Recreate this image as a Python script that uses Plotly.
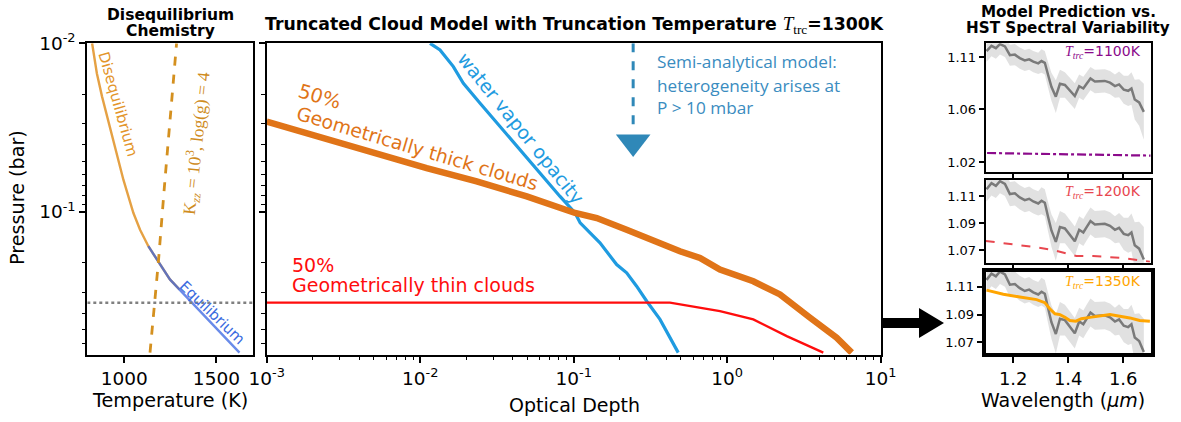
import plotly.graph_objects as go

W, H = 1181, 422
def fx(x): return x / W
def fy(y): return 1 - y / H

# ---------------- Left panel: disequilibrium chemistry ----------------
diseq_T = [826, 852, 880, 916, 951, 996, 1050, 1086, 1131, 1176, 1248, 1300]
diseq_P = [0.0100, 0.0151, 0.0207, 0.0297, 0.0408, 0.0646, 0.1014, 0.1274, 0.1596, 0.1914, 0.2512, 0.2880]
equil_T = [1131, 1176, 1248, 1340, 1436, 1530, 1625]
equil_P = [0.1596, 0.1914, 0.2512, 0.3206, 0.4140, 0.5320, 0.6820]
kzz_T = [1140, 1185, 1221, 1284]
kzz_P = [0.682, 0.200, 0.0646, 0.0100]
trunc_P = 0.345
temp_range = [800, 1700]

# ---------------- Middle panel: truncated cloud model ----------------
thick_tau = [0.001, 0.001648, 0.004055, 0.01102, 0.02333, 0.04943, 0.1021, 0.1413, 0.2213,
             0.314, 0.363, 0.492, 0.665, 0.897, 1.479, 2.208, 3.467, 5.164, 6.471]
thick_P = [0.0291, 0.03334, 0.04276, 0.05495, 0.06592, 0.08091, 0.1014, 0.1086, 0.1274,
           0.1459, 0.1524, 0.1710, 0.1871, 0.2193, 0.2576, 0.3083, 0.4236, 0.5559, 0.6823]
thin_tau = [0.001, 0.4236, 0.897, 1.479, 2.443, 4.227]
thin_P = [0.345, 0.345, 0.3873, 0.4335, 0.5445, 0.6823]
water_tau = [0.01159, 0.01346, 0.01644, 0.0191, 0.02455, 0.03311, 0.04467, 0.06026, 0.08147,
             0.1021, 0.1102, 0.1483, 0.1905, 0.2213, 0.2570, 0.2992, 0.3648, 0.4797]
water_P = [0.0100, 0.01094, 0.01374, 0.01726, 0.02265, 0.03119, 0.04276, 0.05875, 0.08091,
           0.1014, 0.1161, 0.1524, 0.2051, 0.2296, 0.2754, 0.3381, 0.4335, 0.6823]
arrow_tau = [0.244, 0.244]
arrow_P = [0.0100, 0.0317]
arrow_head_P = [0.0385]
P_range = [0.70, 0.01]
tau_range = [0.001, 10]

# ---------------- Right panels: HST spectral variability ----------------
wl = [1.103, 1.121, 1.137, 1.152, 1.170, 1.188, 1.206, 1.224, 1.242, 1.258, 1.273, 1.291, 1.303,
      1.315, 1.327, 1.339, 1.355, 1.370, 1.388, 1.406, 1.424, 1.440, 1.455, 1.467, 1.481, 1.497,
      1.515, 1.533, 1.552, 1.570, 1.585, 1.602, 1.618, 1.630, 1.642, 1.658, 1.675]
ratio = [1.115, 1.1195, 1.1175, 1.121, 1.119, 1.1115, 1.112, 1.109, 1.107, 1.108, 1.106, 1.1045,
         1.1065, 1.105, 1.0945, 1.0845, 1.076, 1.087, 1.086, 1.081, 1.0765, 1.085, 1.083, 1.087,
         1.0915, 1.089, 1.0895, 1.0895, 1.088, 1.085, 1.0865, 1.082, 1.081, 1.083, 1.0735, 1.071, 1.063]
ratio_err = [0.009, 0.009, 0.009, 0.009, 0.009, 0.009, 0.009, 0.009, 0.009, 0.009, 0.009, 0.009,
             0.010, 0.010, 0.011, 0.012, 0.014, 0.012, 0.011, 0.011, 0.011, 0.010, 0.010, 0.010,
             0.010, 0.010, 0.010, 0.010, 0.010, 0.010, 0.011, 0.012, 0.013, 0.014, 0.017, 0.020, 0.024]
m1100_wl = [1.105, 1.40, 1.70]
m1100 = [1.0277, 1.0266, 1.0255]
m1200_wl = [1.10, 1.20, 1.285, 1.345, 1.43, 1.49, 1.588, 1.697]
m1200 = [1.0767, 1.0744, 1.072, 1.070, 1.0655, 1.0655, 1.0643, 1.0614]
m1350_wl = [1.103, 1.164, 1.224, 1.285, 1.315, 1.333, 1.352, 1.370, 1.388, 1.406, 1.428, 1.448,
            1.479, 1.515, 1.552, 1.588, 1.624, 1.660, 1.697]
m1350 = [1.1076, 1.1047, 1.1027, 1.1008, 1.0986, 1.0942, 1.0906, 1.090, 1.0881, 1.0857, 1.0852,
         1.087, 1.088, 1.0888, 1.090, 1.0888, 1.0876, 1.0857, 1.0852]
wl_range = [1.10, 1.70]
y1_range = [1.0117, 1.1217]
y2_range = [1.0606, 1.1219]
y3_range = [1.0621, 1.1209]
y1_ticks = [1.02, 1.065, 1.11]
y1_text = ["1.02", "1.06", "1.11"]
y23_ticks = [1.07, 1.09, 1.11]
y23_text = ["1.07", "1.09", "1.11"]

FONT = "DejaVu Sans"
SERIF = "Liberation Serif"

fig = go.Figure()

# left
fig.add_trace(go.Scatter(x=diseq_T, y=diseq_P, mode="lines", xaxis="x", yaxis="y",
                         line=dict(color="rgba(225,145,35,0.85)", width=2.4)))
fig.add_trace(go.Scatter(x=equil_T, y=equil_P, mode="lines", xaxis="x", yaxis="y",
                         line=dict(color="rgba(55,100,225,0.75)", width=2.4)))
fig.add_trace(go.Scatter(x=kzz_T, y=kzz_P, mode="lines", xaxis="x", yaxis="y",
                         line=dict(color="#d4901f", width=2.8, dash="dash")))
fig.add_trace(go.Scatter(x=temp_range, y=[trunc_P, trunc_P], mode="lines", xaxis="x", yaxis="y",
                         line=dict(color="#808080", width=2.5, dash="dot")))

# middle
fig.add_trace(go.Scatter(x=water_tau, y=water_P, mode="lines", xaxis="x2", yaxis="y2",
                         line=dict(color="#1f9be0", width=3.2)))
fig.add_trace(go.Scatter(x=thick_tau, y=thick_P, mode="lines", xaxis="x2", yaxis="y2",
                         line=dict(color="#e07418", width=6.5)))
fig.add_trace(go.Scatter(x=thin_tau, y=thin_P, mode="lines", xaxis="x2", yaxis="y2",
                         line=dict(color="#ff0d0d", width=2.3)))
fig.add_trace(go.Scatter(x=arrow_tau, y=arrow_P, mode="lines", xaxis="x2", yaxis="y2",
                         line=dict(color="#2f88b8", width=3, dash="dash")))
fig.add_trace(go.Scatter(x=arrow_tau[:1], y=arrow_head_P, mode="markers", xaxis="x2", yaxis="y2",
                         marker=dict(symbol="triangle-down", size=30, color="#2f88b8")))

# right panels
for xa, ya in [("x3", "y3"), ("x4", "y4"), ("x5", "y5")]:
    up = [r + e for r, e in zip(ratio, ratio_err)]
    lo = [r - e for r, e in zip(ratio, ratio_err)]
    fig.add_trace(go.Scatter(x=wl, y=up, mode="lines", xaxis=xa, yaxis=ya,
                             line=dict(width=0, color="rgba(0,0,0,0)")))
    fig.add_trace(go.Scatter(x=wl, y=lo, mode="lines", xaxis=xa, yaxis=ya, fill="tonexty",
                             fillcolor="rgba(205,205,205,0.6)", line=dict(width=0, color="rgba(0,0,0,0)")))
    fig.add_trace(go.Scatter(x=wl, y=ratio, mode="lines", xaxis=xa, yaxis=ya,
                             line=dict(color="#7a7a7a", width=2.5)))
fig.add_trace(go.Scatter(x=m1100_wl, y=m1100, mode="lines", xaxis="x3", yaxis="y3",
                         line=dict(color="#8b0a8b", width=2.2, dash="dashdot")))
fig.add_trace(go.Scatter(x=m1200_wl, y=m1200, mode="lines", xaxis="x4", yaxis="y4",
                         line=dict(color="#e8474f", width=2, dash="dash")))
fig.add_trace(go.Scatter(x=m1350_wl, y=m1350, mode="lines", xaxis="x5", yaxis="y5",
                         line=dict(color="#ffa500", width=3)))

# axes
TICK = 18.5
def ax_common(lw=2):
    return dict(showline=True, linecolor="black", linewidth=lw, mirror=True, ticks="outside",
                ticklen=6, tickwidth=1.5, tickcolor="black", showgrid=False, zeroline=False,
                automargin=False, tickfont=dict(family=FONT, size=TICK, color="black"))

minor_P = [0.02, 0.03, 0.04, 0.05, 0.06, 0.07, 0.08, 0.09, 0.2, 0.3, 0.4, 0.5, 0.6]
minor_tau = [m * d for d in [0.001, 0.01, 0.1, 1] for m in range(2, 10)]

LX = [87.3, 253.3]; MX = [266.7, 880.7]; RX = [985.7, 1150.7]
PY = [43.3, 354.5]

layout = dict(width=W, height=H, margin=dict(l=0, r=0, t=0, b=0, pad=0, autoexpand=False),
              showlegend=False, plot_bgcolor="white", paper_bgcolor="white",
              font=dict(family=FONT, color="black"))

a = ax_common(); a.update(domain=[fx(LX[0]), fx(LX[1])], range=temp_range, anchor="y",
                          tickvals=[1000, 1500], ticktext=["1000", "1500"])
layout["xaxis"] = a
a = ax_common(); a.update(domain=[fy(PY[1]), fy(PY[0])], type="log", anchor="x",
                          range=[-0.155, -2], tickvals=[0.01, 0.1],
                          ticktext=["10<sup>-2</sup>", "10<sup>-1</sup>"],
                          minor=dict(tickmode="array", tickvals=minor_P, ticks="outside", ticklen=3.5,
                                     tickwidth=1, tickcolor="black"))
layout["yaxis"] = a
a = ax_common(); a.update(domain=[fx(MX[0]), fx(MX[1])], type="log", range=[-3, 1], anchor="y2",
                          tickvals=[0.001, 0.01, 0.1, 1, 10],
                          ticktext=["10<sup>-3</sup>", "10<sup>-2</sup>", "10<sup>-1</sup>",
                                    "10<sup>0</sup>", "10<sup>1</sup>"],
                          minor=dict(tickmode="array", tickvals=minor_tau, ticks="outside", ticklen=3.5,
                                     tickwidth=1, tickcolor="black"))
layout["xaxis2"] = a
a = ax_common(); a.update(domain=[fy(PY[1]), fy(PY[0])], type="log", anchor="x2",
                          range=[-0.155, -2], tickvals=[0.01, 0.1], showticklabels=False,
                          minor=dict(tickmode="array", tickvals=minor_P, ticks="outside", ticklen=3.5,
                                     tickwidth=1, tickcolor="black"))
layout["yaxis2"] = a

rpanels = [(43.3, 171.7, y1_range, y1_ticks, y1_text, 2),
           (180.0, 262.7, y2_range, y23_ticks, y23_text, 2),
           (271.7, 353.3, y3_range, y23_ticks, y23_text, 4)]
for i, (t, b, yr, tv, tt, lw) in enumerate(rpanels):
    n = i + 3
    a = ax_common(lw); a.update(domain=[fx(RX[0]), fx(RX[1])], range=wl_range, anchor=f"y{n}",
                                tickvals=[1.2, 1.4, 1.6], ticktext=["1.2", "1.4", "1.6"],
                                showticklabels=(n == 5),
                                tickfont=dict(family=FONT, size=18, color="black"))
    layout[f"xaxis{n}"] = a
    a = ax_common(lw); a.update(domain=[fy(b), fy(t)], range=yr, anchor=f"x{n}",
                                tickvals=tv, ticktext=tt, ticklen=5,
                                tickfont=dict(family=FONT, size=13, color="black"))
    layout[f"yaxis{n}"] = a

fig.update_layout(**layout)

def ann(text, x, y, size, color="black", angle=0, xanchor="center", family=FONT):
    fig.add_annotation(text=text, x=fx(x), y=fy(y), xref="paper", yref="paper", showarrow=False,
                       textangle=angle, xanchor=xanchor, yanchor="middle",
                       font=dict(family=family, size=size, color=color))

# titles
ann("<b>Disequilibrium</b>", 170, 15, 15.5)
ann("<b>Chemistry</b>", 170, 31, 15.5)
ann("<b>Truncated Cloud Model with Truncation Temperature </b>"
    "<span style='font-family:Liberation Serif;font-size:19px'><i>T</i><sub>trc</sub></span>"
    "<b>=1300K</b>", 574, 25, 17.3)
ann("<b>Model Prediction vs.</b>", 1068, 12, 15.2)
ann("<b>HST Spectral Variability</b>", 1068, 28, 15.2)

# axis titles
ann("Pressure (bar)", 17, 198, 19.2, angle=-90)
ann("Temperature (K)", 170, 400, 19.2)
ann("Optical Depth", 574, 405, 19)
ann("Wavelength (<i>μm</i>)", 1063, 400, 19)

# left panel labels
ann("Disequilibrium", 118, 104, 15, color="#e3952a", angle=74)
ann("K<sub><i>zz</i></sub> = 10<sup>3</sup>, log(g) = 4", 196, 143, 17.5, color="#cf8c1e", angle=-84,
    family=SERIF)
ann("Equilibrium", 213, 312, 14.8, color="#3a6be0", angle=44)

# middle panel labels
ann("water vapor opacity", 521, 128, 18.8, color="#1f9be0", angle=51)
ann("50%", 319, 96, 19.5, color="#e07418", angle=16.5)
ann("Geometrically thick clouds", 417, 148, 18.9, color="#e07418", angle=16.5)
ann("50%", 290, 265, 19, color="#ff0d0d", xanchor="left")
ann("Geometrically thin clouds", 290, 285, 19, color="#ff0d0d", xanchor="left")
ann("Semi-analytical model:", 655, 62, 17.2, color="#3a8cc0", xanchor="left", family="Open Sans")
ann("heterogeneity arises at", 655, 85, 17.2, color="#3a8cc0", xanchor="left", family="Open Sans")
ann("P > 10 mbar", 655, 108, 17.2, color="#3a8cc0", xanchor="left", family="Open Sans")

# right panel labels
tl = "<span style='font-family:Liberation Serif'><i>T<sub>trc</sub></i></span>"
for txt, yy, col in [("=1100K", 52.5, "#8b0a8b"), ("=1200K", 191.5, "#e8474f"),
                     ("=1350K", 281.5, "#ffa500")]:
    fig.add_annotation(text=tl + txt, x=fx(1143), y=fy(yy), xref="paper", yref="paper",
                       showarrow=False, xanchor="right", yanchor="middle",
                       font=dict(family=FONT, size=14, color=col))

# black arrow between panels
pts = [(881, 318), (919, 318), (919, 308), (944, 323), (919, 338), (919, 328), (881, 328)]
path = "M " + " L ".join(f"{fx(x):.5f},{fy(y):.5f}" for x, y in pts) + " Z"
fig.add_shape(type="path", path=path, xref="paper", yref="paper", fillcolor="black",
              line=dict(color="black", width=0))

fig.write_html("out.html", config={"displayModeBar": False},
               post_script="document.body.style.margin='0px';")
